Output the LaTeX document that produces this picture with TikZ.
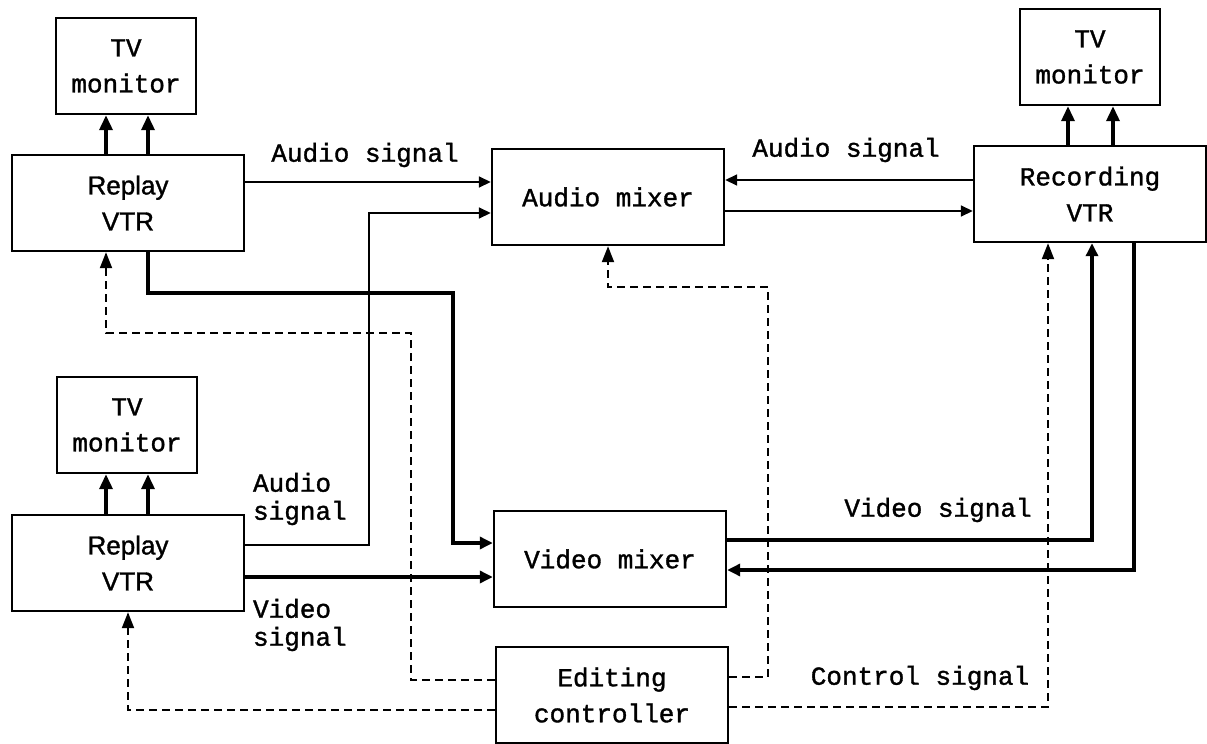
\documentclass[tikz,border=0pt]{standalone}
\usepackage{fontspec}
\setmainfont[FakeBold=1.3,AutoFakeBold=1.3]{Liberation Mono}
\newfontfamily\vtrfont[AutoFakeBold=1.3]{Liberation Sans}
\usetikzlibrary{positioning,arrows.meta}

\begin{document}
\begin{tikzpicture}[x=0.5pt,y=-0.5pt,
    box/.style={draw, line width=1.2pt, minimum width=116pt, minimum height=48pt, align=center, font=\fontsize{13}{18}\selectfont\bfseries},
    tvbox/.style={box, minimum width=70pt},
    vtrbox/.style={box, font=\fontsize{13}{18}\selectfont\vtrfont\bfseries},
    lbl/.style={font=\fontsize{13}{14}\selectfont\bfseries, align=left},
    audio/.style={line width=0.8pt, -{Triangle[length=6pt,width=5.5pt]}},
    video/.style={line width=1.7pt, -{Triangle[length=6.5pt,width=6pt]}},
    monarrow/.style={line width=1.7pt, -{Triangle[length=7.5pt,width=6.5pt]}},
    ctrl/.style={line width=1.1pt, dash pattern=on 4pt off 2.5pt, -{Triangle[length=8pt,width=6pt]}}]
    \useasboundingbox (0,0) rectangle (1207,744);

    % boxes
    \node[tvbox] (tvA) at (126,66) {TV\\monitor};
    \node[vtrbox] (repA) at (128,203) {Replay\\VTR};
    \node[tvbox] (tvB) at (127,425) {TV\\monitor};
    \node[vtrbox] (repB) at (128,563) {Replay\\VTR};
    \node[box] (amix) at (608,197) {Audio mixer};
    \node[box] (vmix) at (610,559) {Video mixer};
    \node[box] (edit) at (612,695) {Editing\\controller};
    \node[box] (recv) at (1090,194) {Recording\\VTR};
    \node[tvbox] (tvC) at (1090,57) {TV\\monitor};

    % labels
    \node[lbl] (lAudA) at (365,155) {Audio signal};
    \node[lbl] (lAudR) at (846,150) {Audio signal};
    \node[lbl, anchor=west] (lAudB) at (246,499) {Audio\\signal};
    \node[lbl, anchor=west] (lVidB) at (246,625) {Video\\signal};
    \node[lbl] (lVid) at (938,510) {Video signal};
    \node[lbl] (lCtrl) at (920,678) {Control signal};

    % bend points
    \coordinate (aB) at (369,213);
    \coordinate (v1) at (453,293);
    \coordinate (c1) at (411,333);
    \coordinate (c2) at (768,287);

    % VTRs to monitors
    \draw[monarrow] ([xshift=-11pt]repA.north) -- ([xshift=-11pt]repA.north |- tvA.south);
    \draw[monarrow] ([xshift=10pt]repA.north) -- ([xshift=10pt]repA.north |- tvA.south);
    \draw[monarrow] ([xshift=-11pt]repB.north) -- ([xshift=-11pt]repB.north |- tvB.south);
    \draw[monarrow] ([xshift=10pt]repB.north) -- ([xshift=10pt]repB.north |- tvB.south);
    \draw[monarrow] ([xshift=-11pt]recv.north) -- ([xshift=-11pt]recv.north |- tvC.south);
    \draw[monarrow] ([xshift=11.5pt]recv.north) -- ([xshift=11.5pt]recv.north |- tvC.south);

    % audio
    \draw[audio] ([yshift=7.5pt]amix.west -| repA.east) -- ([yshift=7.5pt]amix.west);
    \draw[audio] ([yshift=9pt]repB.east) -| (aB) -- ([yshift=-8pt]amix.west);
    \draw[audio] ([yshift=7pt]recv.west) -- ([yshift=7pt]recv.west -| amix.east);
    \draw[audio] ([yshift=-7pt]amix.east) -- ([yshift=-7pt]amix.east -| recv.west);

    % video
    \draw[video] ([xshift=10pt]repA.south) |- (v1) |- ([yshift=8pt]vmix.west);
    \draw[video] ([yshift=-7pt]repB.east) -- ([yshift=-7pt]repB.east -| vmix.west);
    \draw[video] ([yshift=9.5pt]vmix.east) -| ([xshift=1pt]recv.south);
    \draw[video] ([xshift=22pt]recv.south) |- ([yshift=-5.5pt]vmix.east);

    % control
    \draw[ctrl] ([yshift=7.5pt]edit.west) -| (c1) -| ([xshift=-11pt]repA.south);
    \draw[ctrl] ([yshift=9pt]edit.east) -| (c2) -| (amix.south);
    \draw[ctrl] ([yshift=-7.5pt]edit.west) -| (repB.south);
    \draw[ctrl] ([yshift=-6pt]edit.east) -| ([xshift=-21pt]recv.south);
\end{tikzpicture}
\end{document}
